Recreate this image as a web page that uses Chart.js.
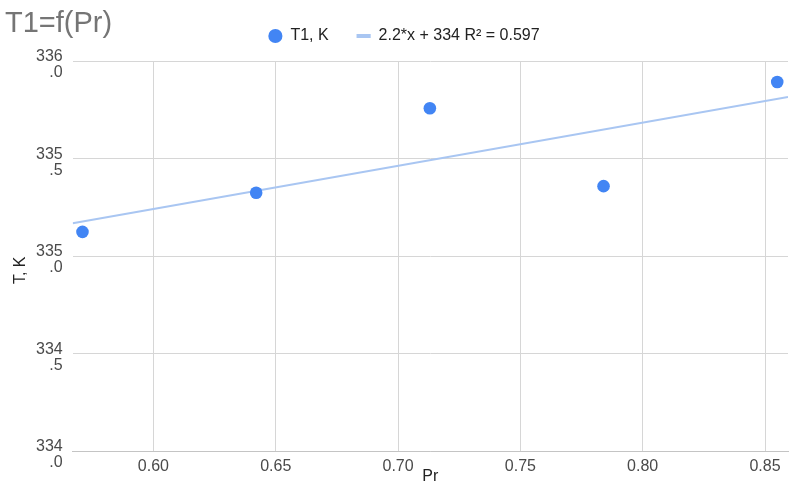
<!DOCTYPE html>
<html>
<head>
<meta charset="utf-8">
<title>T1=f(Pr)</title>
<script src="https://cdn.jsdelivr.net/npm/chart.js@4.4.1/dist/chart.umd.min.js"></script>
<style>
  html, body { margin: 0; padding: 0; background: #ffffff; }
  canvas { display: block; }
</style>
</head>
<body>
<canvas id="chart" width="802" height="495"></canvas>
<script>
// Measured Prandtl numbers and outlet temperatures
const chartTitle = 'T1=f(Pr)';
const seriesName = 'T1, K';
const trendLabel = '2.2*x + 334 R² = 0.597';
const prValues = [0.571, 0.642, 0.713, 0.784, 0.855];
const t1Values = [335.125, 335.326, 335.760, 335.360, 335.895];
const xTickValues = [0.60, 0.65, 0.70, 0.75, 0.80, 0.85];
const yTickValues = [334.0, 334.5, 335.0, 335.5, 336.0];
const xAxisTitle = 'Pr';
const yAxisTitle = 'T, K';

// Least-squares linear trend through the measured points
const n = prValues.length;
const meanX = prValues.reduce((a, b) => a + b, 0) / n;
const meanY = t1Values.reduce((a, b) => a + b, 0) / n;
let sxy = 0, sxx = 0;
for (let i = 0; i < n; i++) {
  sxy += (prValues[i] - meanX) * (t1Values[i] - meanY);
  sxx += (prValues[i] - meanX) ** 2;
}
const slope = sxy / sxx;
const intercept = meanY - slope * meanX;

const X_MIN = 0.567, X_MAX = 0.8594;
const trendPoints = [X_MIN, X_MAX].map(x => ({ x: x, y: intercept + slope * x }));
const points = prValues.map((x, i) => ({ x: x, y: t1Values[i] }));

const FONT = "'Liberation Sans', Arial, Helvetica, sans-serif";
const POINT_COLOR = '#4285f4';
const TREND_COLOR = '#a9c6f2';
const GRID_COLOR = '#d6d6d6';
const Y_TITLE_SPACE = 26;

Chart.defaults.font.family = FONT;

// Heading in the top-left corner (same row as the legend) and the
// rotated y-axis caption, placed a little below the plot's middle
const headingPlugin = {
  id: 'heading',
  afterDraw(chart) {
    const ctx = chart.ctx;
    ctx.save();
    ctx.font = '29px ' + FONT;
    ctx.fillStyle = '#757575';
    ctx.textBaseline = 'alphabetic';
    ctx.textAlign = 'left';
    ctx.fillText(chartTitle, 5, 32);

    const area = chart.chartArea;
    ctx.translate(21, (area.top + area.bottom) / 2 + 14);
    ctx.rotate(-Math.PI / 2);
    ctx.font = '16px ' + FONT;
    ctx.fillStyle = '#222222';
    ctx.textAlign = 'center';
    ctx.textBaseline = 'middle';
    ctx.fillText(yAxisTitle, 0, 0);
    ctx.restore();
  }
};

// Extra room under the legend and a small horizontal nudge
const legendSpacing = {
  id: 'legendSpacing',
  beforeInit(chart) {
    const legend = chart.legend;
    const fit = legend.fit;
    legend.fit = function () {
      fit.call(this);
      this.height += 7.5;
    };
  },
  afterLayout(chart) {
    chart.legend.left -= 3;
    chart.legend.right -= 3;
  }
};

new Chart(document.getElementById('chart'), {
  type: 'scatter',
  data: {
    datasets: [
      {
        label: seriesName,
        data: points,
        backgroundColor: POINT_COLOR,
        borderWidth: 0,
        pointRadius: 6.3,
        pointHoverRadius: 6.3,
        order: 0
      },
      {
        type: 'line',
        label: trendLabel,
        data: trendPoints,
        borderColor: TREND_COLOR,
        borderWidth: 2.2,
        pointRadius: 0,
        fill: false,
        order: 1
      }
    ]
  },
  options: {
    responsive: false,
    animation: false,
    layout: { padding: { left: Y_TITLE_SPACE, right: 14, top: 0, bottom: 0 } },
    plugins: {
      tooltip: { enabled: false },
      title: { display: false },
      legend: {
        display: true,
        position: 'top',
        align: 'center',
        labels: {
          usePointStyle: true,
          boxWidth: 14,
          boxHeight: 10,
          padding: 28,
          color: '#222222',
          font: { size: 16, family: FONT },
          generateLabels: () => [
            { text: seriesName, fillStyle: POINT_COLOR, strokeStyle: POINT_COLOR, lineWidth: 0,
              pointStyle: 'circle', datasetIndex: 0, hidden: false, fontColor: '#222222' },
            { text: trendLabel, fillStyle: TREND_COLOR, strokeStyle: TREND_COLOR, lineWidth: 4,
              pointStyle: 'line', datasetIndex: 1, hidden: false, fontColor: '#222222' }
          ]
        }
      }
    },
    scales: {
      x: {
        type: 'linear',
        min: X_MIN,
        max: X_MAX,
        afterBuildTicks: scale => { scale.ticks = xTickValues.map(v => ({ value: v })); },
        ticks: {
          callback: v => Number(v).toFixed(2),
          color: '#4a4a4a',
          font: { size: 16, lineHeight: 1 },
          padding: 8,
          maxRotation: 0,
          autoSkip: false
        },
        grid: { color: GRID_COLOR, drawTicks: false },
        border: { display: true, color: '#c4c4c4' },
        title: {
          display: true,
          text: xAxisTitle,
          color: '#222222',
          font: { size: 16, lineHeight: 1 },
          padding: { top: -14, bottom: 10 }
        }
      },
      y: {
        type: 'linear',
        min: 334,
        max: 336,
        afterBuildTicks: scale => { scale.ticks = yTickValues.map(v => ({ value: v })); },
        ticks: {
          callback: v => {
            const parts = Number(v).toFixed(1).split('.');
            return [parts[0], '.' + parts[1]];
          },
          color: '#4a4a4a',
          font: { size: 16, lineHeight: 1 },
          padding: 10,
          labelOffset: 3.5
        },
        grid: { color: GRID_COLOR, drawTicks: false },
        border: { display: false },
        title: { display: false }
      }
    }
  },
  plugins: [headingPlugin, legendSpacing]
});
</script>
</body>
</html>
